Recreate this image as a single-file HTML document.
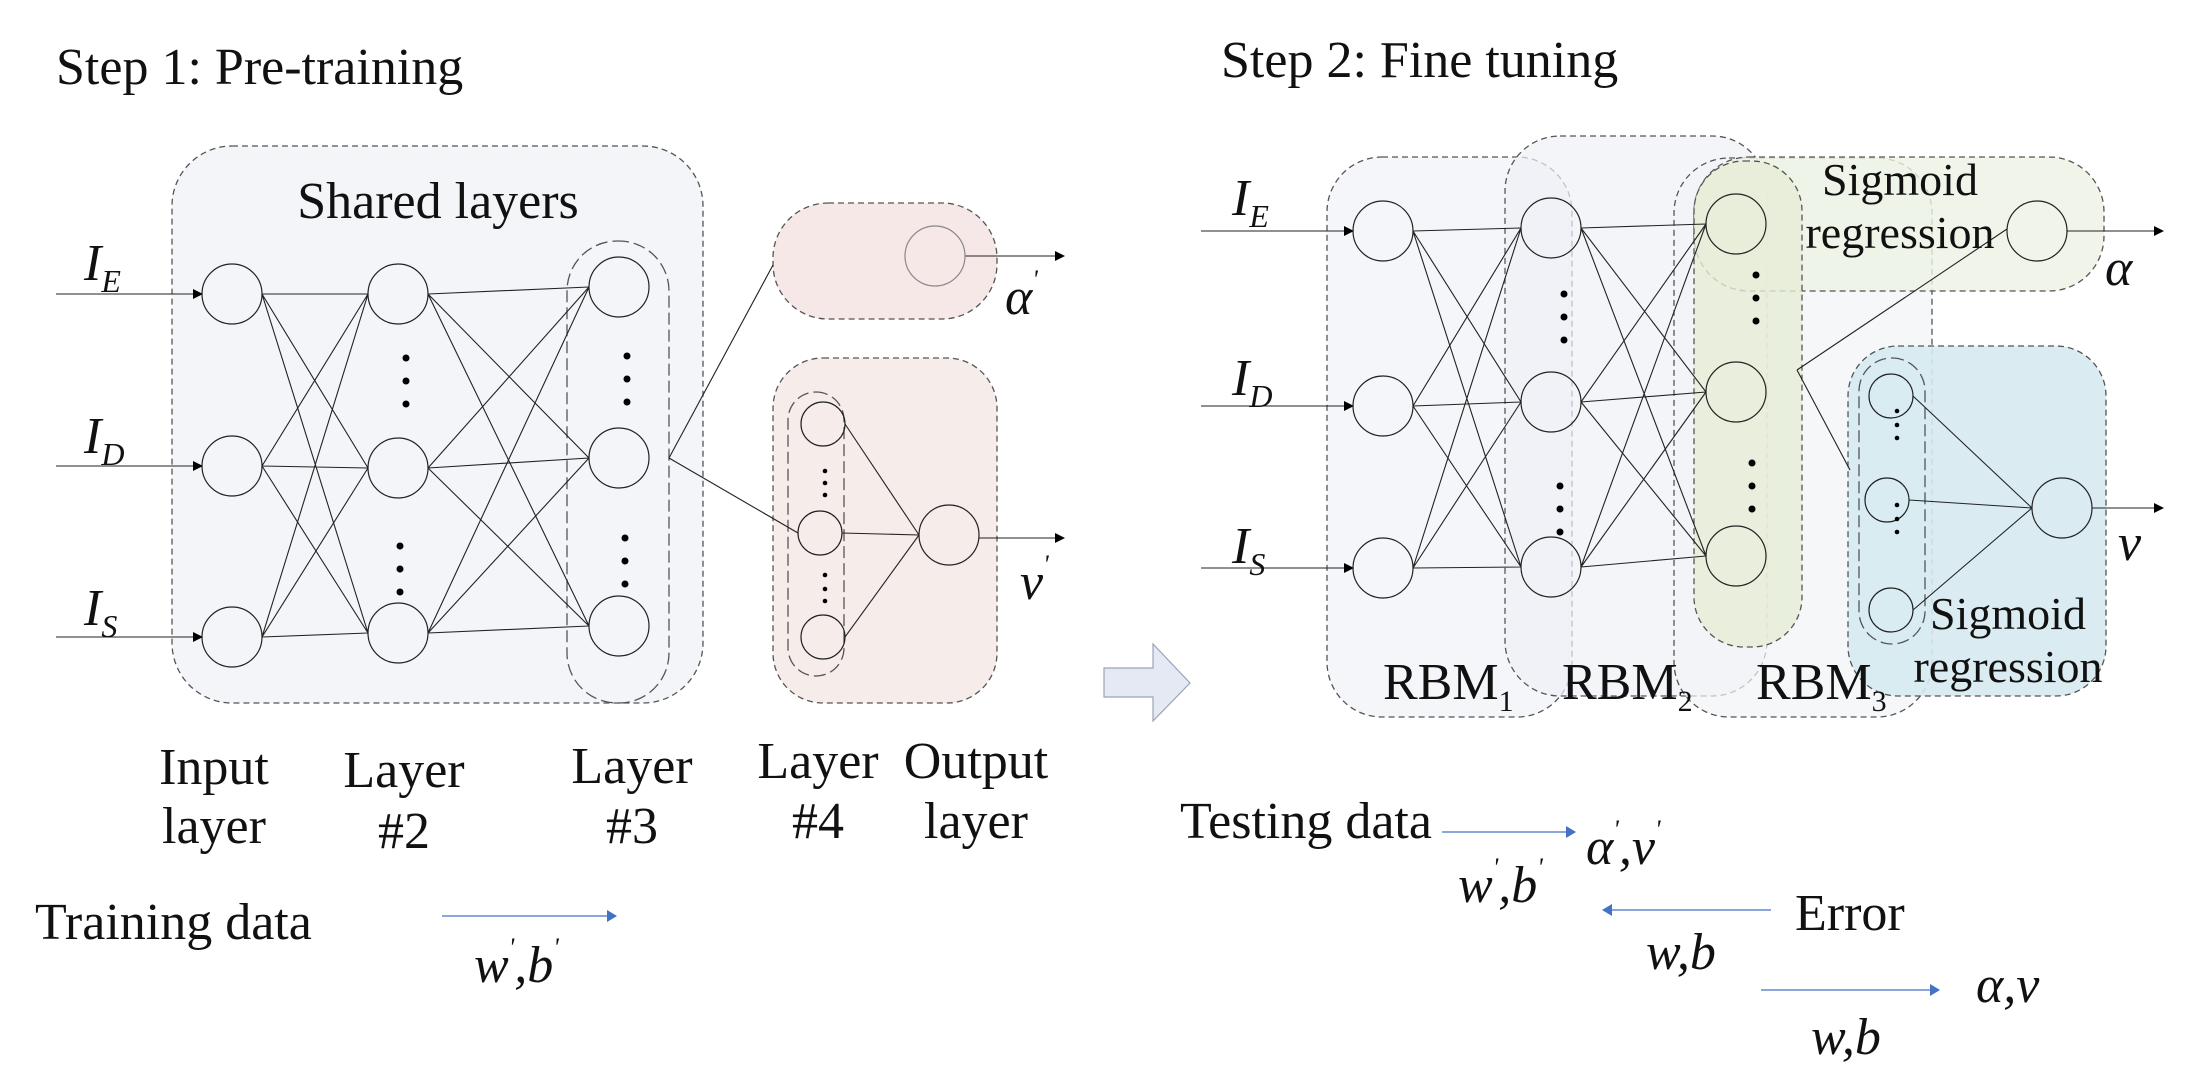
<!DOCTYPE html>
<html><head><meta charset="utf-8"><style>
html,body{margin:0;padding:0;background:#fff;}
svg{display:block;}
text{font-family:"Liberation Serif","Times New Roman",serif;fill:#111;}
.it{font-style:italic;}
</style></head><body>
<svg width="2195" height="1082" viewBox="0 0 2195 1082" xmlns="http://www.w3.org/2000/svg">
<defs>
<marker id="ah" markerWidth="10" markerHeight="10" refX="9" refY="5" orient="auto" markerUnits="userSpaceOnUse"><path d="M0,0 L10,5 L0,10 z" fill="#000"/></marker>
<marker id="ab" markerWidth="10" markerHeight="12" refX="9" refY="6" orient="auto" markerUnits="userSpaceOnUse"><path d="M0,0 L10,6 L0,12 z" fill="#4472c4"/></marker>
</defs>
<g stroke="#555" stroke-dasharray="6,4" stroke-width="1.3">
<rect x="172" y="146" width="531" height="557" rx="60" fill="#f3f5f9"/>
<rect x="567" y="241" width="102" height="462" rx="50" fill="none" stroke-dasharray="12,5"/>
<rect x="773" y="203" width="224" height="116" rx="55" fill="#f6e8e6"/>
<rect x="773" y="358" width="224" height="345" rx="50" fill="#f6ecea"/>
<rect x="788" y="392" width="56" height="284" rx="28" fill="none" stroke-dasharray="12,5"/>
<rect x="1327" y="157" width="245" height="560" rx="55" fill="#f3f5f9" fill-opacity="0.9"/>
<rect x="1505" y="136" width="262" height="560" rx="55" fill="#eef1f6" fill-opacity="0.7"/>
<rect x="1674" y="158" width="258" height="559" rx="55" fill="#f1f3f7" fill-opacity="0.7"/>
<rect x="1694" y="157" width="410" height="134" rx="55" fill="#eef2e4" fill-opacity="0.8"/>
<rect x="1694" y="161" width="108" height="486" rx="50" fill="#e6ecd6" fill-opacity="0.8"/>
<rect x="1848" y="346" width="258" height="350" rx="50" fill="#d6eaf0" fill-opacity="0.9"/>
<rect x="1859" y="358" width="66" height="286" rx="33" fill="none" stroke-dasharray="12,5"/>
</g>
<g stroke="#222" stroke-width="1.1" fill="none">
<path d="M262,294 L368,294 M262,294 L368,468 M262,466 L368,294 M262,466 L368,468 M262,466 L368,633 M262,637 L368,468 M262,637 L368,633 M262,637 L368,294 M262,294 L368,633"/>
<path d="M428,294 L589,287 M428,294 L589,458 M428,294 L589,626 M428,468 L589,287 M428,468 L589,458 M428,468 L589,626 M428,633 L589,287 M428,633 L589,458 M428,633 L589,626"/>
<path d="M669,458 L773,265 M669,458 L798,533"/>
<path d="M845,424 L919,535 M842,533 L919,535 M845,637 L919,535"/>
<path d="M1413,231 L1521,228 M1413,231 L1521,402 M1413,406 L1521,228 M1413,406 L1521,402 M1413,406 L1521,567 M1413,568 L1521,402 M1413,568 L1521,567 M1413,568 L1521,228 M1413,231 L1521,567"/>
<path d="M1581,228 L1706,224 M1581,228 L1706,392 M1581,228 L1706,556 M1581,402 L1706,224 M1581,402 L1706,392 M1581,402 L1706,556 M1581,567 L1706,224 M1581,567 L1706,392 M1581,567 L1706,556"/>
<path d="M1797,370 L2007,229 M1797,370 L1850,470"/>
<path d="M1913,396 L2032,508 M1909,500 L2032,508 M1913,610 L2032,508"/>
</g>
<g stroke="#222" stroke-width="1.1" fill="none" marker-end="url(#ah)">
<line x1="56" y1="294" x2="202" y2="294"/><line x1="56" y1="466" x2="202" y2="466"/><line x1="56" y1="637" x2="202" y2="637"/>
<line x1="965" y1="256" x2="1064" y2="256"/><line x1="979" y1="538" x2="1064" y2="538"/>
<line x1="1201" y1="231" x2="1353" y2="231"/><line x1="1201" y1="406" x2="1353" y2="406"/><line x1="1201" y1="568" x2="1353" y2="568"/>
<line x1="2067" y1="231" x2="2163" y2="231"/><line x1="2092" y1="508" x2="2163" y2="508"/>
</g>
<g stroke="#222" stroke-width="1.2" fill="none">
<circle cx="232" cy="294" r="30"/><circle cx="232" cy="466" r="30"/><circle cx="232" cy="637" r="30"/>
<circle cx="398" cy="294" r="30"/><circle cx="398" cy="468" r="30"/><circle cx="398" cy="633" r="30"/>
<circle cx="619" cy="287" r="30"/><circle cx="619" cy="458" r="30"/><circle cx="619" cy="626" r="30"/>
<circle cx="935" cy="256" r="30" stroke="#888"/>
<circle cx="823" cy="424" r="22"/><circle cx="820" cy="533" r="22"/><circle cx="823" cy="637" r="22"/>
<circle cx="949" cy="535" r="30"/>
<circle cx="1383" cy="231" r="30"/><circle cx="1383" cy="406" r="30"/><circle cx="1383" cy="568" r="30"/>
<circle cx="1551" cy="228" r="30"/><circle cx="1551" cy="402" r="30"/><circle cx="1551" cy="567" r="30"/>
<circle cx="1736" cy="224" r="30"/><circle cx="1736" cy="392" r="30"/><circle cx="1736" cy="556" r="30"/>
<circle cx="2037" cy="231" r="30"/>
<circle cx="1891" cy="396" r="22"/><circle cx="1887" cy="500" r="22"/><circle cx="1891" cy="610" r="22"/>
<circle cx="2062" cy="508" r="30"/>
</g>
<g fill="#000">
<circle cx="406" cy="358" r="3.5"/><circle cx="406" cy="381" r="3.5"/><circle cx="406" cy="404" r="3.5"/>
<circle cx="400" cy="546" r="3.5"/><circle cx="400" cy="569" r="3.5"/><circle cx="400" cy="592" r="3.5"/>
<circle cx="627" cy="356" r="3.5"/><circle cx="627" cy="379" r="3.5"/><circle cx="627" cy="402" r="3.5"/>
<circle cx="625" cy="538" r="3.5"/><circle cx="625" cy="561" r="3.5"/><circle cx="625" cy="584" r="3.5"/>
<circle cx="825" cy="471" r="2.3"/><circle cx="825" cy="483" r="2.3"/><circle cx="825" cy="495" r="2.3"/>
<circle cx="825" cy="575" r="2.3"/><circle cx="825" cy="589" r="2.3"/><circle cx="825" cy="601" r="2.3"/>
<circle cx="1564" cy="294" r="3.5"/><circle cx="1564" cy="317" r="3.5"/><circle cx="1564" cy="340" r="3.5"/>
<circle cx="1560" cy="486" r="3.5"/><circle cx="1560" cy="509" r="3.5"/><circle cx="1560" cy="532" r="3.5"/>
<circle cx="1756" cy="275" r="3.5"/><circle cx="1756" cy="298" r="3.5"/><circle cx="1756" cy="321" r="3.5"/>
<circle cx="1752" cy="463" r="3.5"/><circle cx="1752" cy="486" r="3.5"/><circle cx="1752" cy="509" r="3.5"/>
<circle cx="1897" cy="411" r="2.3"/><circle cx="1897" cy="425" r="2.3"/><circle cx="1897" cy="438" r="2.3"/>
<circle cx="1897" cy="505" r="2.3"/><circle cx="1897" cy="519" r="2.3"/><circle cx="1897" cy="532" r="2.3"/>
</g>
<path d="M1104,668 L1153,668 L1153,644 L1190,683 L1153,721 L1153,697 L1104,697 Z" fill="#e4e9f3" stroke="#9aa4b8" stroke-width="1.2"/>
<g stroke="#4472c4" stroke-width="1.3">
<line x1="442" y1="916" x2="616" y2="916" marker-end="url(#ab)"/>
<line x1="1442" y1="832" x2="1575" y2="832" marker-end="url(#ab)"/>
<line x1="1771" y1="910" x2="1603" y2="910" marker-end="url(#ab)"/>
<line x1="1761" y1="990" x2="1939" y2="990" marker-end="url(#ab)"/>
</g>
<g font-size="52">
<text x="56" y="84">Step 1: Pre-training</text>
<text x="1221" y="77">Step 2: Fine tuning</text>
<text x="438" y="218" text-anchor="middle">Shared layers</text>
<text x="214" y="784" text-anchor="middle">Input</text><text x="214" y="843" text-anchor="middle">layer</text>
<text x="404" y="787" text-anchor="middle">Layer</text><text x="404" y="848" text-anchor="middle">#2</text>
<text x="632" y="783" text-anchor="middle">Layer</text><text x="632" y="843" text-anchor="middle">#3</text>
<text x="818" y="778" text-anchor="middle">Layer</text><text x="818" y="838" text-anchor="middle">#4</text>
<text x="976" y="778" text-anchor="middle">Output</text><text x="976" y="838" text-anchor="middle">layer</text>
<text x="35" y="939">Training data</text>
<text x="1180" y="838">Testing data</text>
<text x="1795" y="930">Error</text>
<text x="1383" y="699">RBM<tspan font-size="30" dy="12">1</tspan></text>
<text x="1562" y="699">RBM<tspan font-size="30" dy="12">2</tspan></text>
<text x="1756" y="699">RBM<tspan font-size="30" dy="12">3</tspan></text>
</g>
<g font-size="46" text-anchor="middle">
<text x="1900" y="195">Sigmoid</text><text x="1900" y="248">regression</text>
<text x="2008" y="629">Sigmoid</text><text x="2008" y="682">regression</text>
</g>
<g font-size="52" class="it">
<text x="84" y="280" class="it">I<tspan font-size="32" dy="12">E</tspan></text>
<text x="84" y="453" class="it">I<tspan font-size="32" dy="12">D</tspan></text>
<text x="84" y="625" class="it">I<tspan font-size="32" dy="12">S</tspan></text>
<text x="1232" y="215" class="it">I<tspan font-size="32" dy="12">E</tspan></text>
<text x="1232" y="395" class="it">I<tspan font-size="32" dy="12">D</tspan></text>
<text x="1232" y="563" class="it">I<tspan font-size="32" dy="12">S</tspan></text>
<text x="1005" y="314" class="it">α<tspan font-size="26" dy="-26">'</tspan></text>
<text x="1020" y="599" class="it">v<tspan font-size="26" dy="-26">'</tspan></text>
<text x="2105" y="285" class="it">α</text>
<text x="2118" y="560" class="it">v</text>
<text x="474" y="982" class="it">w<tspan font-size="26" dy="-26">'</tspan><tspan dy="26">,b</tspan><tspan font-size="26" dy="-26">'</tspan></text>
<text x="1458" y="902" class="it">w<tspan font-size="26" dy="-26">'</tspan><tspan dy="26">,b</tspan><tspan font-size="26" dy="-26">'</tspan></text>
<text x="1586" y="864" class="it">α<tspan font-size="26" dy="-26">'</tspan><tspan dy="26">,v</tspan><tspan font-size="26" dy="-26">'</tspan></text>
<text x="1646" y="969" class="it">w,b</text>
<text x="1811" y="1054" class="it">w,b</text>
<text x="1976" y="1002" class="it">α,v</text>
</g>
</svg>
</body></html>
